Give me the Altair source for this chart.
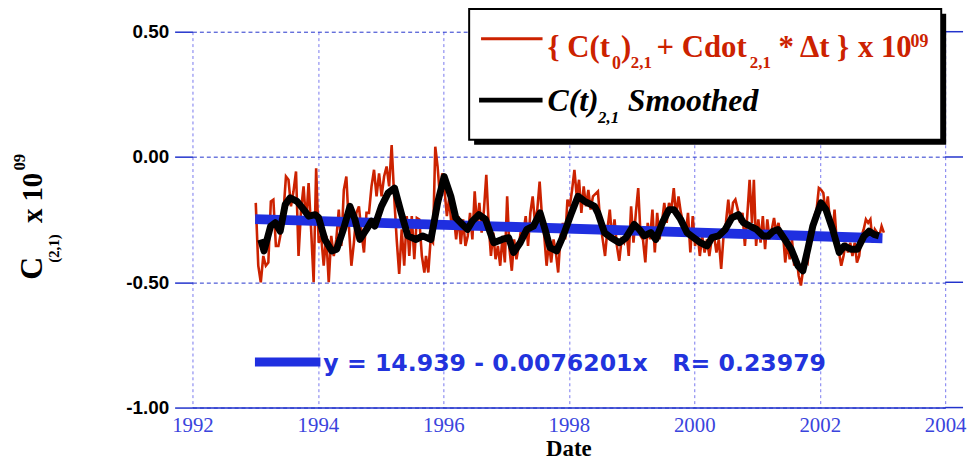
import altair as alt
import numpy as np
import pandas as pd

# ---------------- data ----------------
# red noisy series, read as 4 consecutive stretches (start year, end year, values)
red_seg_start = [1993.009, 1995.723, 1998.464, 2000.950]
red_seg_end = [1995.697, 1998.385, 2000.920, 2003.022]
red_seg1 = [-0.183,-0.434,-0.500,-0.395,-0.434,-0.421,-0.177,-0.170,-0.355,-0.355,
            -0.302,-0.223,-0.078,-0.091,-0.197,-0.137,-0.058,-0.395,-0.210,-0.117,
            -0.263,-0.104,-0.289,-0.500,-0.045,-0.342,-0.315,-0.434,-0.315,-0.500,
            -0.315,-0.395,-0.329,-0.210,-0.355,-0.131,-0.078,-0.276,-0.434,-0.342,
            -0.223,-0.197,-0.302,-0.381,-0.223,-0.223,-0.117,-0.051,-0.157,-0.065,
            -0.157,-0.078,-0.038,-0.117,0.048,-0.157,-0.329,-0.467,-0.289,-0.434,
            -0.236,-0.395,-0.236,-0.408,-0.243,-0.249,-0.395,-0.461]
red_seg2 = [-0.395,-0.461,-0.329,-0.342,0.041,-0.038,-0.157,-0.065,-0.131,-0.236,
            -0.164,-0.276,-0.236,-0.329,-0.236,-0.348,-0.249,-0.355,-0.315,-0.223,
            -0.329,-0.137,-0.276,-0.183,-0.302,-0.210,-0.071,-0.263,-0.395,-0.302,
            -0.408,-0.355,-0.434,-0.315,-0.421,-0.157,-0.368,-0.454,-0.329,-0.408,
            -0.355,-0.289,-0.302,-0.236,-0.355,-0.223,-0.157,-0.263,-0.210,-0.098,
            -0.236,-0.315,-0.434,-0.342,-0.421,-0.329,-0.381,-0.461,-0.315,-0.263,
            -0.329,-0.170,-0.197,-0.131,-0.051,-0.157,-0.091,-0.223,-0.117,-0.197,
            -0.131,-0.210,-0.157]
red_seg3 = [-0.137,-0.263,-0.329,-0.395,-0.289,-0.210,-0.329,-0.249,-0.355,-0.414,
            -0.329,-0.342,-0.289,-0.395,-0.197,-0.342,-0.223,-0.124,-0.315,-0.329,
            -0.421,-0.263,-0.329,-0.210,-0.381,-0.223,-0.329,-0.263,-0.183,-0.263,
            -0.183,-0.210,-0.124,-0.236,-0.157,-0.223,-0.263,-0.315,-0.223,-0.381,
            -0.236,-0.355,-0.302,-0.395,-0.315,-0.381,-0.329,-0.395,-0.329,-0.315,
            -0.381,-0.329,-0.447,-0.315,-0.263,-0.170,-0.263,-0.183,-0.170,-0.210,
            -0.263,-0.223,-0.355,-0.236,-0.091,-0.263]
red_seg4 = [-0.091,-0.355,-0.249,-0.342,-0.236,-0.368,-0.249,-0.329,-0.289,-0.243,
            -0.302,-0.263,-0.329,-0.302,-0.421,-0.342,-0.408,-0.329,-0.434,-0.395,
            -0.474,-0.513,-0.447,-0.408,-0.421,-0.329,-0.289,-0.236,-0.210,-0.124,
            -0.131,-0.144,-0.223,-0.157,-0.263,-0.329,-0.210,-0.342,-0.381,-0.434,
            -0.395,-0.342,-0.381,-0.342,-0.395,-0.342,-0.421,-0.395,-0.315,-0.289,
            -0.249,-0.263,-0.249,-0.342,-0.289,-0.302,-0.315,-0.276,-0.302]

# black smoothed series
smooth_year = [1993.088,1993.141,1993.246,1993.320,1993.399,1993.478,1993.557,1993.668,1993.774,1993.853,
               1993.957,1994.011,1994.111,1994.221,1994.300,1994.406,1994.511,1994.590,1994.669,1994.775,
               1994.854,1994.906,1995.012,1995.118,1995.222,1995.328,1995.434,1995.565,1995.671,1995.802,
               1995.908,1996.013,1996.119,1996.198,1996.304,1996.383,1996.462,1996.566,1996.672,1996.803,
               1996.936,1997.040,1997.119,1997.225,1997.331,1997.436,1997.542,1997.621,1997.700,1997.806,
               1997.910,1998.043,1998.147,1998.253,1998.411,1998.463,1998.569,1998.675,1998.806,1998.912,
               1999.043,1999.123,1999.202,1999.308,1999.387,1999.491,1999.597,1999.676,1999.782,1999.886,
               1999.992,2000.098,2000.202,2000.281,2000.387,2000.493,2000.598,2000.704,2000.783,2000.889,
               2000.993,2001.099,2001.178,2001.257,2001.336,2001.442,2001.546,2001.652,2001.731,2001.810,
               2001.889,2002.020,2002.099,2002.206,2002.311,2002.391,2002.495,2002.601,2002.707,2002.786,
               2002.865,2002.944]
smooth_val = [-0.329,-0.375,-0.276,-0.262,-0.296,-0.190,-0.163,-0.177,-0.210,-0.236,
              -0.230,-0.242,-0.329,-0.375,-0.368,-0.289,-0.197,-0.249,-0.329,-0.289,
              -0.256,-0.276,-0.197,-0.144,-0.124,-0.223,-0.315,-0.329,-0.315,-0.329,
              -0.183,-0.078,-0.157,-0.243,-0.269,-0.289,-0.256,-0.230,-0.249,-0.342,
              -0.329,-0.322,-0.381,-0.342,-0.289,-0.276,-0.223,-0.289,-0.362,-0.375,
              -0.315,-0.223,-0.157,-0.177,-0.197,-0.223,-0.302,-0.322,-0.342,-0.322,
              -0.269,-0.289,-0.315,-0.302,-0.329,-0.262,-0.210,-0.210,-0.249,-0.302,
              -0.322,-0.342,-0.355,-0.322,-0.315,-0.289,-0.243,-0.230,-0.262,-0.276,
              -0.289,-0.315,-0.315,-0.296,-0.289,-0.329,-0.368,-0.434,-0.454,-0.368,
              -0.276,-0.183,-0.210,-0.289,-0.381,-0.355,-0.368,-0.368,-0.315,-0.296,
              -0.309,-0.315]

# linear fit line (end points)
reg_year = [1993.0, 2003.0]
reg_val = [-0.248, -0.324]

x_ticks = [1992, 1994, 1996, 1998, 2000, 2002, 2004]
y_ticks = [-1.0, -0.5, 0.0, 0.5]

# ---------------- frames ----------------
red_rows = []
for s, e, vals in zip(red_seg_start, red_seg_end,
                      [red_seg1, red_seg2, red_seg3, red_seg4]):
    yrs = np.linspace(s, e, len(vals))
    red_rows += list(zip(yrs, vals))
red_df = pd.DataFrame(red_rows, columns=["year", "val"])
smooth_df = pd.DataFrame({"year": smooth_year, "val": smooth_val})
reg_df = pd.DataFrame({"year": reg_year, "val": reg_val})
ytick_df = pd.DataFrame({"val": y_ticks})
one = pd.DataFrame({"a": [0]})

AXBLUE = "#2233cc"
RED = "#cc2200"
SERIF = "Liberation Serif"

xscale = alt.Scale(domain=[1992, 2004], nice=False, zero=False)
yscale = alt.Scale(domain=[-1.0, 0.5], nice=False, zero=False)

xaxis = alt.Axis(values=x_ticks, format="d", title=None, ticks=False,
                 labelFlush=False, labelOverlap=False,
                 domainColor=AXBLUE, domainWidth=1.5,
                 labelColor="#3a44dd", labelFont="Liberation Sans Narrow",
                 labelFontSize=21, labelPadding=7,
                 grid=True, gridColor="#7777ee", gridDash=[3, 3], gridWidth=1)
yaxis = alt.Axis(values=y_ticks, title=None, domain=False,
                 labelExpr="replace(format(datum.value, '.2f'), '\u2212', '-')",
                 labelFont="Liberation Sans", labelFontWeight="bold",
                 labelFontSize=19, labelColor="black", labelPadding=6,
                 tickSize=18, tickColor=AXBLUE, tickWidth=1.5,
                 grid=True, gridColor=AXBLUE, gridDash=[4, 3], gridWidth=1)

red_line = alt.Chart(red_df).mark_line(color=RED, strokeWidth=2.6).encode(
    x=alt.X("year:Q", scale=xscale, axis=xaxis),
    y=alt.Y("val:Q", scale=yscale, axis=yaxis),
)
reg_line = alt.Chart(reg_df).mark_line(color="#1f2fe0", strokeWidth=10).encode(
    x=alt.X("year:Q", scale=xscale), y=alt.Y("val:Q", scale=yscale))
smooth_line = alt.Chart(smooth_df).mark_line(color="black", strokeWidth=7,
                                              strokeJoin="round").encode(
    x=alt.X("year:Q", scale=xscale), y=alt.Y("val:Q", scale=yscale))

right_ticks = alt.Chart(ytick_df).mark_rule(color=AXBLUE, strokeWidth=1.5).encode(
    y=alt.Y("val:Q", scale=yscale), x=alt.value(759), x2=alt.value(777))


def box(x, x2, y, y2, **kw):
    return alt.Chart(one).mark_rect(**kw).encode(
        x=alt.value(x), x2=alt.value(x2), y=alt.value(y), y2=alt.value(y2))


def seg(x, x2, y, color, w):
    return alt.Chart(one).mark_rule(color=color, strokeWidth=w).encode(
        x=alt.value(x), x2=alt.value(x2), y=alt.value(y))


def txt(s, x, y, size, color="black", font=SERIF, weight="bold", style="normal",
        align="left", baseline="alphabetic", angle=0):
    return alt.Chart(one).mark_text(
        text=s, font=font, fontSize=size, fontWeight=weight, fontStyle=style,
        color=color, align=align, baseline=baseline, angle=angle).encode(
        x=alt.value(x), y=alt.value(y))


legend = [
    box(284, 760, -18, 114, color="black"),
    box(279, 755, -23, 109, fill="white", stroke="black", strokeWidth=2),
    seg(291, 353, 7, RED, 3),
    txt("{ C(t", 358, 25, 31, RED),
    txt("0", 423, 38, 18, RED),
    txt(")", 432, 25, 31, RED),
    txt("2,1", 442, 37, 17, RED),
    txt("+ Cdot", 468, 25, 31, RED),
    txt("2,1", 562, 37, 17, RED),
    txt("* \u0394t }", 591, 25, 31, RED),
    txt("x 10", 671, 25, 31, RED),
    txt("09", 724, 15, 18, RED),
    seg(289, 353, 69, "black", 5),
    txt("C(t)", 358, 80, 32, style="italic"),
    txt("2,1", 409, 92, 17, style="italic"),
    txt("Smoothed", 439, 80, 32, style="italic"),
]

annot = [
    seg(63, 129, 333, "#1f2fe0", 9),
    txt("y = 14.939 - 0.0076201x\u00a0\u00a0\u00a0R= 0.23979", 132, 335, 23.8,
        color="#2233dd", font="DejaVu Sans", weight="bold", baseline="middle"),
    txt("C", -152, 250, 32, angle=270),
    txt("(2,1)", -135, 233, 15, angle=270),
    txt("x 10", -152, 193, 29, angle=270),
    txt("09", -169, 140, 17, angle=270),
    txt("Date", 379.5, 428, 23, align="center"),
]

chart = alt.layer(red_line, reg_line, smooth_line, right_ticks, *legend, *annot).properties(
    width=759, height=379,
    autosize=alt.AutoSizeParams(type="none"),
    padding={"left": 186, "top": 22, "right": 22, "bottom": 56},
).configure_view(strokeWidth=0)

chart.save("out.html", embed_options={"renderer": "svg", "actions": False})
